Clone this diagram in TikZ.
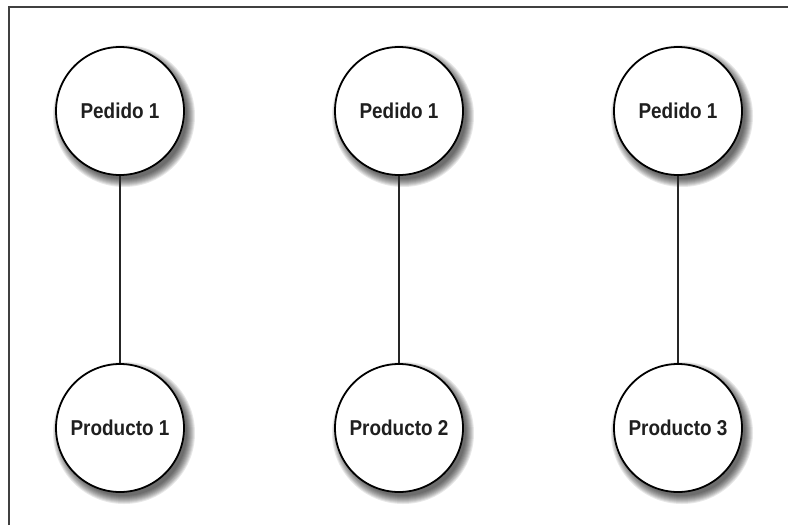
\documentclass[tikz,border=0pt]{standalone}
\usepackage{fontspec}
\setmainfont{Liberation Sans}[FakeStretch=0.88]
\begin{document}
\begin{tikzpicture}[x=1pt,y=-1pt,
  entity/.style={circle,draw=black,line width=1.8pt,fill=white,minimum size=128pt,inner sep=0pt,
    font=\fontsize{21.5}{24}\selectfont\bfseries,text=black!88},
  link/.style={line width=1.5pt,draw=black!85},
  shadowdisc/.style={fill=black,fill opacity=0.09,draw=none}]
\useasboundingbox (0,0) rectangle (790,525);
\draw[line width=1.3pt,black!75] (9,525) -- (9,7) -- (788,7);
\foreach \cx/\cy in {120/111,399/111,678/111,120/428,399/428,678/428}{
  \foreach \r in {71,70,69,68,67,66,65,64,63}{
    \fill[shadowdisc] (\cx+4,\cy+5) circle[radius=\r];
  }
}
\node[entity] (p1) at (120,111) {Pedido 1};
\node[entity] (p2) at (399,111) {Pedido 1};
\node[entity] (p3) at (678,111) {Pedido 1};
\node[entity] (q1) at (120,428) {Producto 1};
\node[entity] (q2) at (399,428) {Producto 2};
\node[entity] (q3) at (678,428) {Producto 3};
\draw[link] (p1) -- (q1);
\draw[link] (p2) -- (q2);
\draw[link] (p3) -- (q3);
\end{tikzpicture}
\end{document}
